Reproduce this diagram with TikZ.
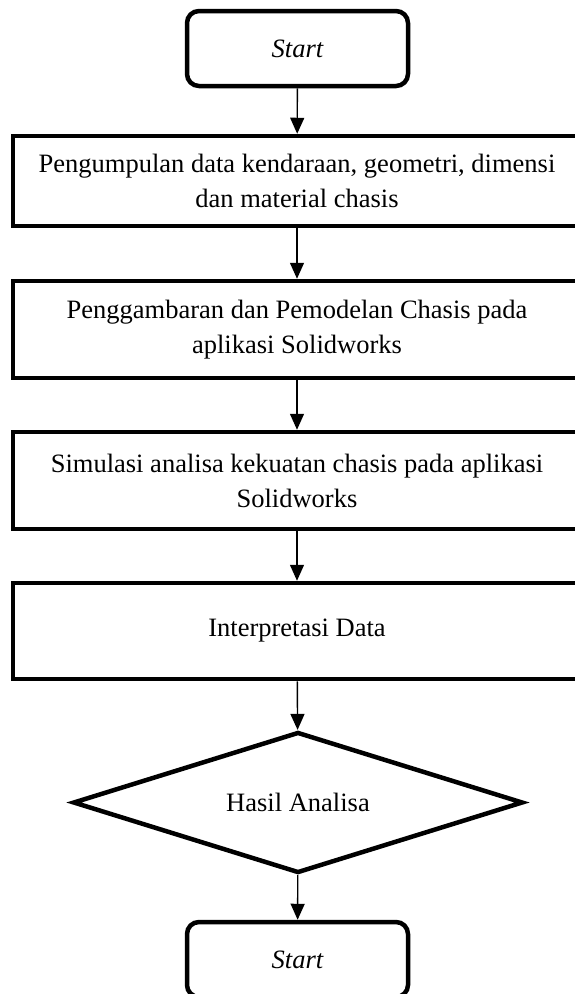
\documentclass[tikz,border=0pt]{standalone}
\usepackage{fontspec}
\setmainfont{Liberation Serif}
\usetikzlibrary{shapes.geometric,arrows.meta}
\begin{document}
\begin{tikzpicture}[x=1pt,y=-1pt,
  txt/.style={font=\fontsize{26.5}{35}\selectfont, align=center},
  termbox/.style={txt, draw, line width=4.5pt, rounded corners=12pt, minimum width=221pt, minimum height=75pt, inner sep=0pt},
  procbox/.style={txt, draw, line width=4.5pt, minimum width=568pt, inner sep=0pt},
  decbox/.style={txt, draw, line width=4.5pt, diamond, aspect=3.17, minimum width=450pt, minimum height=141pt, inner sep=0pt},
  arr/.style={line width=1.4pt, -{Triangle[length=16pt,width=14pt]}}
]
\useasboundingbox (0,0) rectangle (575,994);
\node[termbox] (s) at (297.5,48.5) {\itshape Start};
\node[procbox, minimum height=90pt] (b1) at (297,181) {Pengumpulan data kendaraan, geometri, dimensi\\dan material chasis};
\node[procbox, minimum height=97pt] (b2) at (297,329.5) {Penggambaran dan Pemodelan Chasis pada\\aplikasi Solidworks};
\node[procbox, minimum height=97pt] (b3) at (297,480.5) {Simulasi analisa kekuatan chasis pada aplikasi\\Solidworks};
\node[procbox, minimum height=96pt] (b4) at (297,631) {Interpretasi Data};
\node[decbox] (d) at (298,802.5) {Hasil Analisa};
\node[termbox] (e) at (297.5,959.5) {\itshape Start};
\draw[arr] (s) -- (b1);
\draw[arr] (b1) -- (b2);
\draw[arr] (b2) -- (b3);
\draw[arr] (b3) -- (b4);
\draw[arr] (b4) -- (d);
\draw[arr] (d) -- (e);
\end{tikzpicture}
\end{document}
